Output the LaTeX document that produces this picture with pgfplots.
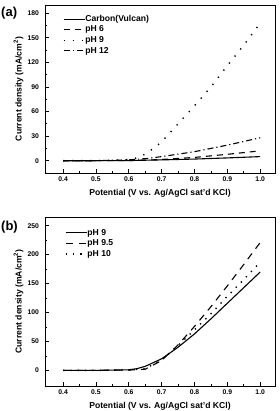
\documentclass[border=0pt]{standalone}
\usepackage{pgfplots}
\pgfplotsset{compat=1.18}
\usepackage{fontspec}
\setmainfont{Liberation Sans}
\begin{document}
\begin{tikzpicture}
\useasboundingbox (0pt,0pt) rectangle (279pt,411pt);
\pgfplotsset{
  panel/.style={
    scale only axis,
    width=230pt,
    xmin=0.345, xmax=1.045,
    xtick={0.4,0.5,...,1.0},
    xtick pos=left, ytick pos=left,
    tick align=inside,
    minor x tick num=1, minor y tick num=1,
    major tick length=3.5pt, minor tick length=2pt,
    axis line style={line width=0.9pt},
    tick style={line width=0.7pt,black},
    tick label style={font=\fontsize{6.8}{7}\selectfont\bfseries},
    xticklabel style={anchor=center, yshift=-6.5pt,
      /pgf/number format/.cd, fixed, fixed zerofill, precision=1},
    yticklabel style={xshift=-2.5pt},
    /pgf/number format/assume math mode=true,
    label style={font=\fontsize{8.6}{9}\selectfont\bfseries},
    xlabel={Potential (V vs. Ag/AgCl sat'd KCl)},
    ylabel={Current density (mA/cm$^{\mathbf{2}}$)},
    xlabel style={at={(axis description cs:0.5,0)}, anchor=center, yshift=-20pt},
    ylabel style={at={(axis description cs:-0.115,0.5)}, anchor=center},
    legend cell align=left,
    legend style={draw=none, fill=none, anchor=north west, inner sep=0pt, outer sep=0pt,
      font=\fontsize{8.6}{9}\selectfont\bfseries, row sep=2.5pt,
      nodes={inner sep=0pt, outer sep=0pt, text height=6.3pt, text depth=1.8pt},
      /tikz/every even column/.append style={column sep=2.5pt}},
    legend image code/.code={\draw[#1] (0pt,0pt) -- (21pt,0pt);},
  },
  curve/.style={black, no marks, line width=1.1pt},
}
% Panel (a)
\begin{axis}[panel, at={(45pt,238pt)}, anchor=south west, height=168pt,
  ymin=-15, ymax=190, ytick={0,30,...,180},
  legend style={at={(axis description cs:0.078,0.94)}}]
\addplot[curve] coordinates {(0.4,0) (0.5,0) (0.6,0.2) (0.7,1) (0.8,2) (0.9,3.4) (1.0,5)};
\addlegendentry{Carbon(Vulcan)}
\addplot[curve, dash pattern=on 6pt off 5pt] coordinates {(0.4,0) (0.5,0) (0.6,0.2) (0.65,0.6) (0.7,1.5) (0.8,4) (0.9,7.8) (1.0,12)};
\addlegendentry{pH 6}
\addplot[curve, line width=1.4pt, dash pattern=on 1.3pt off 7.7pt] coordinates {(0.4,0) (0.5,0.2) (0.55,0.4) (0.6,1.5) (0.625,3.5) (0.65,8) (0.675,15) (0.7,23) (0.75,45) (0.8,67) (0.85,90) (0.9,116) (0.95,141) (1.0,168)};
\addlegendentry{pH 9}
\addplot[curve, dash pattern=on 6pt off 3pt on 1.2pt off 3pt] coordinates {(0.4,0) (0.5,0.1) (0.6,1) (0.65,2.5) (0.7,5) (0.8,11) (0.9,19) (1.0,28)};
\addlegendentry{pH 12}
\end{axis}
\node[font=\fontsize{13}{14}\selectfont\bfseries, anchor=west, inner sep=0pt] at (1pt,398pt) {(a)};
% Panel (b)
\begin{axis}[panel, at={(45pt,25pt)}, anchor=south west, height=169pt,
  ymin=-27, ymax=265, ytick={0,50,...,250},
  legend style={at={(axis description cs:0.087,0.93)}}]
\addplot[curve] coordinates {(0.4,0) (0.5,0) (0.6,1) (0.625,3) (0.65,7) (0.7,20) (0.75,40) (0.8,63) (0.85,89) (0.9,116) (0.95,143) (1.0,170)};
\addlegendentry{pH 9}
\addplot[curve, dash pattern=on 7pt off 6pt] coordinates {(0.4,0) (0.5,0) (0.6,0.5) (0.65,2) (0.7,17) (0.75,44) (0.8,76) (0.85,110) (0.9,146) (0.95,183) (1.0,221)};
\addlegendentry{pH 9.5}
\addplot[curve, line width=1.4pt, dash pattern=on 1.3pt off 6pt] coordinates {(0.4,0) (0.5,0) (0.6,0.8) (0.65,3) (0.7,18) (0.75,43) (0.8,70) (0.85,98) (0.9,128) (0.95,157) (1.0,187)};
\addlegendentry{pH 10}
\end{axis}
\node[font=\fontsize{13}{14}\selectfont\bfseries, anchor=west, inner sep=0pt] at (1pt,184pt) {(b)};
\end{tikzpicture}
\end{document}
